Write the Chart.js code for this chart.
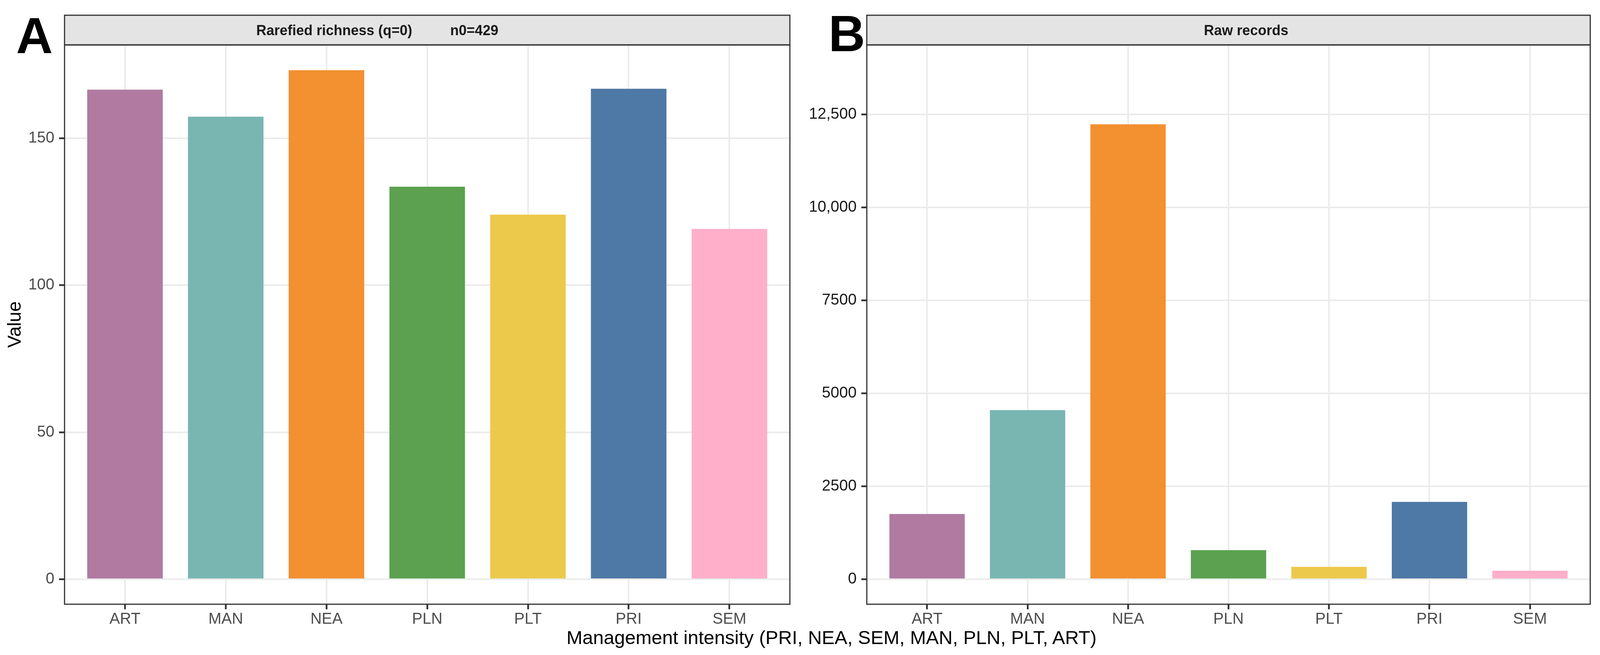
<!DOCTYPE html>
<html>
<head>
<meta charset="utf-8">
<script src="https://cdn.jsdelivr.net/npm/chart.js@4.4.1/dist/chart.umd.min.js"></script>
<style>
  html, body { margin: 0; padding: 0; background: #fff; overflow: hidden; }
  canvas { position: absolute; top: 0; }
  #xTitle {
    position: absolute; width: 2400px; top: 1608px;
    text-align: center; white-space: nowrap; color: #000;
    font: 49px/49px "Liberation Sans", Arial, sans-serif;
  }
</style>
</head>
<body>
<canvas id="chartA"></canvas>
<canvas id="chartB"></canvas>
<div id="xTitle">Management intensity (PRI, NEA, SEM, MAN, PLN, PLT, ART)</div>
<script>
const categories = ['ART', 'MAN', 'NEA', 'PLN', 'PLT', 'PRI', 'SEM'];
const rarefiedRichness = [166.5, 157.3, 173.1, 133.5, 124.0, 166.8, 119.1];
const rawRecords = [1756, 4550, 12237, 783, 333, 2081, 228];
const richnessTicks = [0, 50, 100, 150];
const recordTicks = [0, 2500, 5000, 7500, 10000, 12500];

const barColors = ['#B07AA1', '#79B6B2', '#F39030', '#5BA150', '#ECC94A', '#4E79A6', '#FFAFC9'];
const FONT = '"Liberation Sans", Arial, sans-serif';

// layout is worked out on a 4264 x 1677 page, then stretched to the real window
const W = window.innerWidth, H = window.innerHeight;
const sx = W / 4264, sy = H / 1677;
const splitX = Math.round(2140 * sx);

// ggplot-style strip on top, panel border and the panel letter
const panelFrame = {
  id: 'panelFrame',
  afterDraw(chart, args, o) {
    const { ctx, chartArea: a } = chart;
    const w = a.right - a.left;
    const stripTop = 39 * sy;
    ctx.save();
    ctx.fillStyle = '#E4E4E4';
    ctx.fillRect(a.left, stripTop, w, a.top - stripTop);
    ctx.strokeStyle = '#333333';
    ctx.lineWidth = 3;
    ctx.strokeRect(a.left, stripTop, w, a.top - stripTop);
    ctx.strokeRect(a.left, a.top, w, a.bottom - a.top);

    ctx.fillStyle = '#1A1A1A';
    ctx.font = 'bold 36px ' + FONT;
    ctx.textBaseline = 'alphabetic';
    o.strip.forEach(s => {
      ctx.textAlign = s.align;
      ctx.fillText(s.text, s.x * sx, 90 * sy);
    });

    ctx.fillStyle = '#000';
    ctx.font = 'bold 130px ' + FONT;
    ctx.textAlign = 'left';
    ctx.fillText(o.letter, o.letterX * sx, o.letterY * sy);
    ctx.restore();
  }
};

function makeChart(id, left, width, values, yTicks, cfg) {
  const canvas = document.getElementById(id);
  canvas.width = width;
  canvas.height = H;
  canvas.style.left = left + 'px';
  canvas.style.width = width + 'px';
  canvas.style.height = H + 'px';
  const areaLeft = cfg.areaLeft * sx - left;
  const areaRight = cfg.areaRight * sx - left;

  return new Chart(canvas, {
    type: 'bar',
    data: {
      datasets: [{
        data: categories.map((c, i) => ({ x: i, y: values[i] })),
        backgroundColor: barColors,
        borderWidth: 0,
        barPercentage: 0.75,
        categoryPercentage: 1
      }]
    },
    options: {
      responsive: false,
      devicePixelRatio: 1,
      animation: false,
      layout: { padding: { top: 115 * sy, left: 0, right: width - areaRight, bottom: 0 } },
      plugins: {
        legend: { display: false },
        tooltip: { enabled: false },
        panelFrame: cfg.frame
      },
      scales: {
        x: {
          type: 'linear',
          offset: false,
          min: -0.6,
          max: categories.length - 0.4,
          afterBuildTicks: s => { s.ticks = categories.map((c, i) => ({ value: i })) },
          afterFit: s => { s.height = H - 1547 * sy },
          border: { display: false },
          grid: { offset: false, color: '#EBEBEB', lineWidth: 4, tickLength: 13, tickColor: '#333333', tickWidth: 4.5 },
          ticks: {
            callback: v => categories[v],
            font: { family: FONT, size: 40 },
            color: '#4D4D4D',
            padding: 2,
            maxRotation: 0,
            autoSkip: false
          }
        },
        y: {
          min: cfg.yMin,
          max: cfg.yMax,
          afterBuildTicks: s => { s.ticks = yTicks.map(v => ({ value: v })) },
          afterFit: s => { s.width = areaLeft },
          border: { display: false },
          grid: { color: '#EBEBEB', lineWidth: 4, tickLength: 14, tickColor: '#333333', tickWidth: 4.5 },
          ticks: {
            callback: v => v >= 10000 ? v.toLocaleString('en-US') : String(v),
            font: { family: FONT, size: 40 },
            color: cfg.yTickColor,
            padding: 12
          },
          title: {
            display: !!cfg.yTitle,
            text: cfg.yTitle || '',
            font: { family: FONT, size: 48 },
            color: '#000',
            padding: { top: 11, bottom: 0 }
          }
        }
      }
    },
    plugins: [panelFrame]
  });
}

makeChart('chartA', 0, splitX, rarefiedRichness, richnessTicks, {
  areaLeft: 172, areaRight: 2105, yMin: -8.5, yMax: 181.7,
  yTickColor: '#4D4D4D', yTitle: 'Value',
  frame: {
    letter: 'A', letterX: 43, letterY: 136,
    strip: [
      { text: 'Rarefied richness (q=0)', x: 683, align: 'left' },
      { text: 'n0=429', x: 1328, align: 'right' }
    ]
  }
});

makeChart('chartB', splitX, W - splitX, rawRecords, recordTicks, {
  areaLeft: 2310, areaRight: 4238, yMin: -672, yMax: 14373,
  yTickColor: '#1A1A1A', yTitle: null,
  frame: {
    letter: 'B', letterX: 2208, letterY: 131,
    strip: [{ text: 'Raw records', x: 3321, align: 'center' }]
  }
});

// strip positions of chart B are page coordinates; shift them into its canvas
Chart.getChart('chartB').options.plugins.panelFrame.strip.forEach(s => { s.x -= splitX / sx; });
Chart.getChart('chartB').options.plugins.panelFrame.letterX -= splitX / sx;
Chart.getChart('chartB').update('none');

const xTitle = document.getElementById('xTitle');
xTitle.style.left = (2216 * sx - 1200) + 'px';
xTitle.style.top = (1608 * sy) + 'px';
</script>
</body>
</html>
